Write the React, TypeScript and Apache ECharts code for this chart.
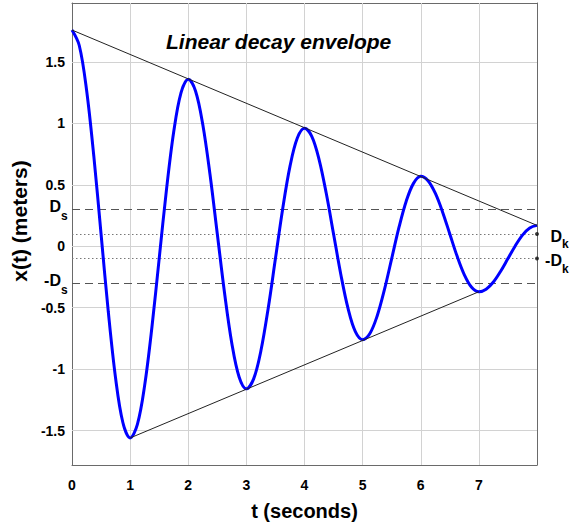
import React, { useEffect, useRef } from "react";
import * as echarts from "echarts";

// time step between displacement readings (seconds)
const sampleStep = 0.125;
// displacement x(t) every 0.125 s from t = 0 to t = 8
const displacement = [
  1.76, 1.634, 1.274, 0.735, 0.1, -0.535, -1.074, -1.434,
  -1.56, -1.449, -1.132, -0.659, -0.1, 0.459, 0.932, 1.249,
  1.36, 1.264, 0.991, 0.582, 0.1, -0.382, -0.791, -1.064,
  -1.16, -1.079, -0.85, -0.506, -0.1, 0.306, 0.65, 0.879,
  0.96, 0.895, 0.708, 0.429, 0.1, -0.229, -0.508, -0.695,
  -0.76, -0.71, -0.567, -0.353, -0.1, 0.153, 0.367, 0.512,
  0.57, 0.534, 0.432, 0.28, 0.1, -0.08, -0.232, -0.334,
  -0.37, -0.349, -0.291, -0.203, -0.1, 0.003, 0.091, 0.149,
  0.17,
];
const upperEnvelope = [
  [0, 1.76],
  [8, 0.17],
];
const lowerEnvelope = [
  [1, -1.56],
  [7, -0.37],
];
const staticLimit = 0.3; // D_s
const kineticLimit = 0.1; // D_k
const xRange = [0, 8];
const yRange = [-1.78, 1.98];
const xGridValues = [1, 2, 3, 4, 5, 6, 7];
const yTickValues = [-1.5, -1, -0.5, 0, 0.5, 1, 1.5];
const xName = "t (seconds)";
const yName = "x(t) (meters)";
const titleText = "Linear decay envelope";

const FONT = "'Liberation Sans', Arial, Helvetica, sans-serif";
const AXIS_COLOR = "#6a6a6a";

export default function App() {
  const ref = useRef<HTMLDivElement>(null);

  useEffect(() => {
    if (!ref.current) return;
    const chart = echarts.init(ref.current, undefined, { renderer: "svg" });

    const curveData = displacement.map((v, i) => [i * sampleStep, v]);

    const axisLine = { show: true, onZero: false, lineStyle: { color: AXIS_COLOR, width: 1 } };

    const option: any = {
      animation: false,
      backgroundColor: "#ffffff",
      textStyle: { fontFamily: FONT },
      title: {
        text: titleText,
        left: 166,
        top: 31,
        padding: 0,
        textStyle: {
          fontFamily: FONT,
          fontSize: 21,
          fontWeight: "bold",
          fontStyle: "italic",
          color: "#000",
        },
      },
      grid: { left: 72, right: 39, top: 3, bottom: 59, containLabel: false },
      xAxis: [
        {
          type: "value",
          position: "bottom",
          min: xRange[0],
          max: xRange[1],
          interval: 1,
          name: xName,
          nameLocation: "middle",
          nameGap: 36,
          nameTextStyle: { fontFamily: FONT, fontSize: 20, fontWeight: "bold", color: "#000" },
          axisLine,
          axisTick: { show: true, inside: true, length: 4, lineStyle: { color: AXIS_COLOR } },
          axisLabel: {
            margin: 13,
            fontFamily: FONT,
            fontSize: 14,
            fontWeight: "bold",
            color: "#000",
            formatter: (v: number) => (v === xRange[1] ? "" : String(v)),
          },
          splitLine: { show: false },
        },
        {
          type: "value",
          position: "top",
          min: xRange[0],
          max: xRange[1],
          interval: 1,
          axisLine,
          axisTick: { show: true, inside: true, length: 4, lineStyle: { color: AXIS_COLOR } },
          axisLabel: { show: false },
          splitLine: { show: false },
        },
      ],
      yAxis: [
        {
          type: "value",
          position: "left",
          min: yRange[0],
          max: yRange[1],
          name: yName,
          nameLocation: "middle",
          nameGap: 38,
          nameTextStyle: {
            fontFamily: FONT,
            fontSize: 21,
            fontWeight: "bold",
            color: "#000",
            padding: [0, 0, 0, 26],
          },
          axisLine,
          axisTick: {
            show: true,
            inside: true,
            length: 4,
            lineStyle: { color: AXIS_COLOR },
            customValues: [...yTickValues, staticLimit, -staticLimit],
          },
          axisLabel: {
            margin: 7,
            fontFamily: FONT,
            fontSize: 14,
            fontWeight: "bold",
            color: "#000",
            customValues: yTickValues,
            formatter: (v: number) => String(v),
          },
          splitLine: { show: false },
        },
        {
          type: "value",
          position: "right",
          min: yRange[0],
          max: yRange[1],
          axisLine,
          axisTick: {
            show: true,
            inside: true,
            length: 4,
            lineStyle: { color: AXIS_COLOR },
            customValues: yTickValues,
          },
          axisLabel: { show: false },
          splitLine: { show: false },
        },
      ],
      series: [
        {
          name: "grid",
          type: "line",
          data: [],
          silent: true,
          z: 1,
          markLine: {
            silent: true,
            z: 1,
            symbol: "none",
            label: { show: false },
            lineStyle: { color: "#d2d2d2", width: 1, type: "solid", opacity: 1 },
            data: [
              ...yTickValues.map((v) => ({ yAxis: v })),
              ...xGridValues.map((v) => ({ xAxis: v })),
            ],
          },
        },
        {
          name: "static",
          type: "line",
          data: [],
          silent: true,
          z: 2,
          markLine: {
            silent: true,
            z: 2,
            symbol: "none",
            label: { show: false },
            lineStyle: { color: "#555555", width: 1, type: [8, 5] },
            data: [{ yAxis: staticLimit }, { yAxis: -staticLimit }],
          },
        },
        {
          name: "kinetic",
          type: "line",
          data: [],
          silent: true,
          z: 2,
          markLine: {
            silent: true,
            z: 2,
            symbol: "none",
            label: { show: false },
            lineStyle: { color: "#777777", width: 1, type: [1.5, 2.5] },
            data: [{ yAxis: kineticLimit }, { yAxis: -kineticLimit }],
          },
        },
        {
          name: "x(t)",
          type: "line",
          data: curveData,
          smooth: 0.35,
          showSymbol: false,
          z: 10,
          lineStyle: { color: "#0000ff", width: 3 },
        },
        {
          name: "upper envelope",
          type: "line",
          data: upperEnvelope,
          showSymbol: false,
          z: 11,
          lineStyle: { color: "#222222", width: 1 },
        },
        {
          name: "lower envelope",
          type: "line",
          data: lowerEnvelope,
          showSymbol: false,
          z: 11,
          lineStyle: { color: "#222222", width: 1 },
        },
        {
          name: "Dk markers",
          type: "scatter",
          data: [
            [xRange[1], kineticLimit],
            [xRange[1], -kineticLimit],
          ],
          symbol: "circle",
          symbolSize: 4,
          itemStyle: { color: "#111" },
          z: 12,
        },
      ],
    };

    chart.setOption(option);

    const px = (x: number, y: number) =>
      chart.convertToPixel({ xAxisIndex: 0, yAxisIndex: 0 }, [x, y]) as number[];

    const bold = (size: number) => ({
      fontFamily: FONT,
      fontSize: size,
      fontWeight: "bold",
      fill: "#000",
    });

    const dsUp = px(xRange[0], staticLimit);
    const dsDn = px(xRange[0], -staticLimit);
    const dkUp = px(xRange[1], kineticLimit);
    const dkDn = px(xRange[1], -kineticLimit);

    const graphic: any[] = [];
    const leftLabel = (p: number[], main: string) => {
      graphic.push({
        type: "text",
        x: p[0] - 11,
        y: p[1] - 3,
        style: { ...bold(16), text: main, align: "right", verticalAlign: "middle" },
      });
      graphic.push({
        type: "text",
        x: p[0] - 11,
        y: p[1] + 7,
        style: { ...bold(12), text: "s", align: "left", verticalAlign: "middle" },
      });
    };
    const rightLabel = (p: number[], main: string) => {
      graphic.push({
        type: "text",
        x: p[0] + 25,
        y: p[1] + 2,
        style: { ...bold(16), text: main, align: "right", verticalAlign: "middle" },
      });
      graphic.push({
        type: "text",
        x: p[0] + 25,
        y: p[1] + 10,
        style: { ...bold(12), text: "k", align: "left", verticalAlign: "middle" },
      });
    };
    leftLabel(dsUp, "D");
    leftLabel(dsDn, "-D");
    rightLabel(dkUp, "D");
    rightLabel(dkDn, "-D");

    chart.setOption({ graphic });

    return () => {
      chart.dispose();
    };
  }, []);

  return (
    <div
      ref={ref}
      style={{ position: "fixed", left: 0, top: 0, width: 576, height: 526, background: "#fff" }}
    />
  );
}
